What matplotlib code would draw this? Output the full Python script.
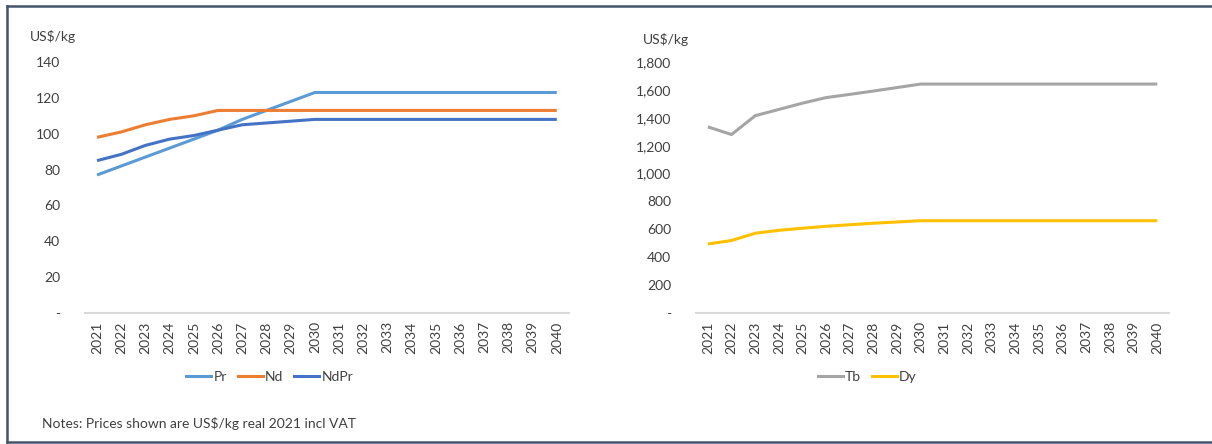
import matplotlib
matplotlib.use('Agg')
import matplotlib.pyplot as plt
from matplotlib.lines import Line2D
from matplotlib.ticker import FuncFormatter

anni = [str(a) for a in range(2021, 2041)]

# US$/kg, valori
pr = [77, 82, 87, 92, 97, 102, 108, 113, 118, 123,
      123, 123, 123, 123, 123, 123, 123, 123, 123, 123]
nd = [98, 101, 105, 108, 110, 113, 113, 113, 113, 113,
      113, 113, 113, 113, 113, 113, 113, 113, 113, 113]
ndpr = [85, 88.5, 93.5, 97, 99, 102, 105, 106, 107, 108,
        108, 108, 108, 108, 108, 108, 108, 108, 108, 108]
tb = [1335, 1280, 1415, 1460, 1505, 1545, 1568, 1592, 1617, 1642,
      1642, 1642, 1642, 1642, 1642, 1642, 1642, 1642, 1642, 1642]
dy = [495, 520, 572, 593, 608, 622, 633, 644, 653, 662,
      662, 662, 662, 662, 662, 662, 662, 662, 662, 662]

plt.rcParams['font.family'] = ['Lato', 'DejaVu Sans']
testo = '#404040'

fig = plt.figure(figsize=(12.12, 4.44), dpi=100)

def formatta(v, pos):
    if v == 0:
        return '-'
    return f'{v:,.0f}'

def pannello(rect, serie, ymax, passo, centro_leg):
    ax = fig.add_axes(rect)
    x = list(range(len(anni)))
    for valori, nome, colore in serie:
        ax.plot(x, valori, color=colore, linewidth=2.2, label=nome,
                solid_capstyle='butt')
    ax.set_xlim(-0.5, len(anni) - 0.5)
    ax.set_ylim(0, ymax)
    ax.set_yticks(range(0, ymax + 1, passo))
    ax.yaxis.set_major_formatter(FuncFormatter(formatta))
    ax.set_xticks(x)
    ax.set_xticklabels(anni, rotation=90)
    for lato in ['top', 'right', 'left']:
        ax.spines[lato].set_visible(False)
    ax.spines['bottom'].set_color('#d9d9d9')
    ax.spines['bottom'].set_linewidth(1.5)
    ax.tick_params(axis='both', length=0, labelsize=10, colors=testo)
    ax.tick_params(axis='y', pad=18)
    ax.tick_params(axis='x', pad=6)
    maniglie = [Line2D([0], [0], color=c, linewidth=2.2) for _, _, c in serie]
    ax.legend(maniglie, [n for _, n, _ in serie], loc='upper center',
              bbox_to_anchor=(centro_leg, -0.18), ncol=len(serie), frameon=False,
              fontsize=10, handlelength=1.8, handletextpad=0.15,
              columnspacing=0.8, labelcolor=testo)
    return ax

ax1 = pannello([0.0701, 0.295, 0.3993, 0.5653],
               [(pr, 'Pr', '#5B9BD5'), (nd, 'Nd', '#ED7D31'), (ndpr, 'NdPr', '#4472C4')],
               140, 20, 0.382)
ax2 = pannello([0.5743, 0.295, 0.3903, 0.5653],
               [(tb, 'Tb', '#A5A5A5'), (dy, 'Dy', '#FFC000')],
               1800, 200, 0.362)

fig.text(30 / 1212, 1 - 36 / 444, 'US$/kg', fontsize=10, color=testo, va='center')
fig.text(643 / 1212, 1 - 40 / 444, 'US$/kg', fontsize=10, color=testo, va='center')
fig.text(42 / 1212, 1 - 423 / 444, 'Notes: Prices shown are US$/kg real 2021 incl VAT',
         fontsize=10, color=testo, va='center')

# cornice esterna
cornice = '#44546A'
fig.add_artist(Line2D([7 / 1212, 1.0], [1 - 6 / 444, 1 - 6 / 444], color=cornice, linewidth=1.8))
fig.add_artist(Line2D([7 / 1212, 1.0], [1 - 442 / 444, 1 - 442 / 444], color=cornice, linewidth=1.8))
fig.add_artist(Line2D([7 / 1212, 7 / 1212], [1 - 6 / 444, 1 - 442 / 444], color=cornice, linewidth=1.8))

fig.savefig('out.png', dpi=100)
